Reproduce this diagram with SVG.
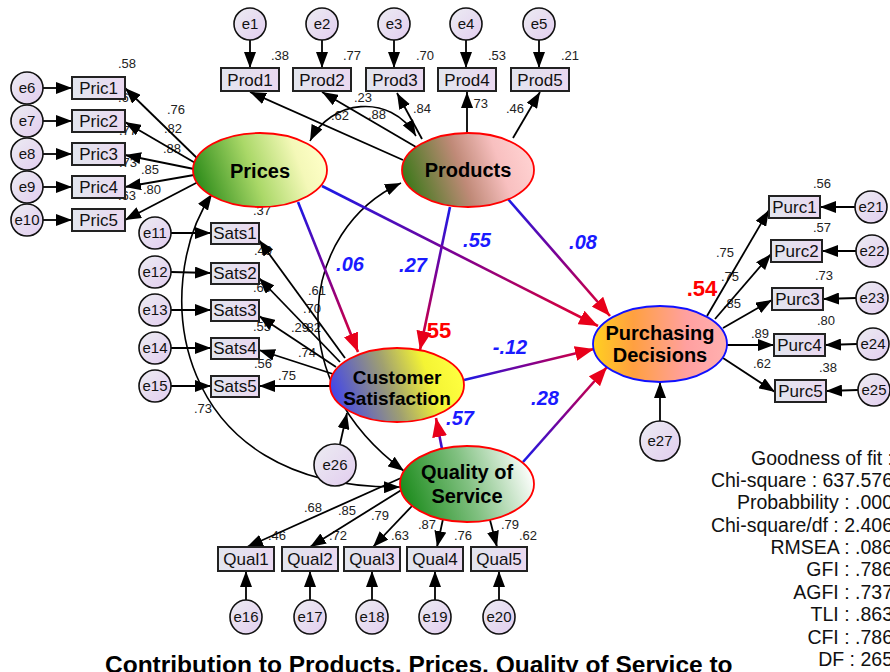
<svg xmlns="http://www.w3.org/2000/svg" width="890" height="672" viewBox="0 0 890 672">
<style>
text{font-family:"Liberation Sans",Arial,sans-serif}
.lab{font-size:13px;fill:#222;text-anchor:middle}
.coef{font-size:20px;font-weight:bold;font-style:italic;fill:#1a1aff;text-anchor:middle}
.r2{font-size:22px;font-weight:bold;fill:#f00;text-anchor:middle}
.nt{font-size:20px;font-weight:bold;fill:#000;text-anchor:middle}
.bt{font-size:17px;fill:#111;text-anchor:middle}
.et{font-size:15px;fill:#111;text-anchor:middle}
.fit{font-size:19.5px;fill:#111;text-anchor:end}
.title{font-size:24.5px;font-weight:bold;fill:#000}
.ell{stroke:#f00;stroke-width:1.8}
.err{fill:url(#gErr);stroke:#111;stroke-width:1.6}
.box{fill:url(#gBox);stroke:#222;stroke-width:2}
.k{stroke:#000;stroke-width:1.8;fill:none;marker-end:url(#ah)}
.cov{stroke:#000;stroke-width:1.6;fill:none;marker-start:url(#ah);marker-end:url(#ah)}
.sp{stroke-width:2.6;fill:none;marker-end:url(#ahr)}
</style>
<defs>
<marker id="ah" markerUnits="userSpaceOnUse" markerWidth="16" markerHeight="12" refX="16" refY="6" orient="auto-start-reverse"><path d="M0,0 L16,6 L0,12 z" fill="#000"/></marker>
<marker id="ahr" markerUnits="userSpaceOnUse" markerWidth="19" markerHeight="15" refX="19" refY="7.5" orient="auto"><path d="M0,0 L19,7.5 L0,15 z" fill="#e8001a"/></marker>
<linearGradient id="gErr" x1="0" y1="0" x2="1" y2="1"><stop offset="0" stop-color="#ececf2"/><stop offset="1" stop-color="#e2cdef"/></linearGradient>
<linearGradient id="gBox" x1="0" y1="0" x2="1" y2="0"><stop offset="0" stop-color="#e2e6ee"/><stop offset="1" stop-color="#ead8f0"/></linearGradient>
<linearGradient id="gPrices" x1="0" y1="0.6" x2="1" y2="0.4"><stop offset="0" stop-color="#2a8a18"/><stop offset="0.45" stop-color="#aad868"/><stop offset="0.8" stop-color="#f4f8b8"/><stop offset="1" stop-color="#ffffc8"/></linearGradient>
<linearGradient id="gProducts" x1="0" y1="0.6" x2="1" y2="0.4"><stop offset="0" stop-color="#3a7818"/><stop offset="0.45" stop-color="#c08a78"/><stop offset="0.75" stop-color="#f8c0c0"/><stop offset="1" stop-color="#ffd2d2"/></linearGradient>
<linearGradient id="gCS" x1="0" y1="0.6" x2="1" y2="0.4"><stop offset="0" stop-color="#4044ec"/><stop offset="0.45" stop-color="#a0a070"/><stop offset="0.75" stop-color="#f4f434"/><stop offset="1" stop-color="#ffff40"/></linearGradient>
<linearGradient id="gQS" x1="0" y1="0.6" x2="1" y2="0.4"><stop offset="0" stop-color="#1a8a1a"/><stop offset="0.5" stop-color="#80c080"/><stop offset="1" stop-color="#ffffff"/></linearGradient>
<linearGradient id="gPD" x1="0" y1="0.5" x2="1" y2="0.5"><stop offset="0" stop-color="#ffd020"/><stop offset="0.3" stop-color="#ffa040"/><stop offset="0.7" stop-color="#ffa0a0"/><stop offset="1" stop-color="#ffb0b0"/></linearGradient>
<linearGradient id="s1" gradientUnits="userSpaceOnUse" x1="298" y1="202" x2="358" y2="352"><stop offset="0" stop-color="#1a1ae8"/><stop offset="0.5" stop-color="#800090"/><stop offset="1" stop-color="#e8002a"/></linearGradient>
<linearGradient id="s2" gradientUnits="userSpaceOnUse" x1="450" y1="207" x2="420" y2="350"><stop offset="0" stop-color="#1a1ae8"/><stop offset="0.5" stop-color="#800090"/><stop offset="1" stop-color="#e8002a"/></linearGradient>
<linearGradient id="s3" gradientUnits="userSpaceOnUse" x1="322" y1="186" x2="598" y2="326"><stop offset="0" stop-color="#1a1ae8"/><stop offset="0.5" stop-color="#800090"/><stop offset="1" stop-color="#e8002a"/></linearGradient>
<linearGradient id="s4" gradientUnits="userSpaceOnUse" x1="508" y1="199" x2="610" y2="316"><stop offset="0" stop-color="#1a1ae8"/><stop offset="0.5" stop-color="#800090"/><stop offset="1" stop-color="#e8002a"/></linearGradient>
<linearGradient id="s5" gradientUnits="userSpaceOnUse" x1="464" y1="380" x2="594" y2="349"><stop offset="0" stop-color="#1a1ae8"/><stop offset="0.5" stop-color="#800090"/><stop offset="1" stop-color="#e8002a"/></linearGradient>
<linearGradient id="s6" gradientUnits="userSpaceOnUse" x1="523" y1="462" x2="607" y2="367"><stop offset="0" stop-color="#1a1ae8"/><stop offset="0.5" stop-color="#800090"/><stop offset="1" stop-color="#e8002a"/></linearGradient>
<linearGradient id="s7" gradientUnits="userSpaceOnUse" x1="442" y1="449" x2="436" y2="418"><stop offset="0" stop-color="#1a1ae8"/><stop offset="0.5" stop-color="#800090"/><stop offset="1" stop-color="#e8002a"/></linearGradient>
</defs>
<rect width="890" height="672" fill="#fff"/>

<g id="labels">
<text class="lab" x="280" y="60">.38</text><text class="lab" x="352" y="60">.77</text><text class="lab" x="425" y="60">.70</text><text class="lab" x="497" y="60">.53</text><text class="lab" x="570" y="60">.21</text>
<text class="lab" x="340" y="120">.62</text><text class="lab" x="363" y="102">.23</text><text class="lab" x="377" y="119">.88</text><text class="lab" x="422" y="113">.84</text><text class="lab" x="479" y="108">.73</text><text class="lab" x="515" y="113">.46</text>
<text class="lab" x="127" y="68">.58</text><text class="lab" x="127" y="102">.67</text><text class="lab" x="128" y="135">.77</text><text class="lab" x="128" y="167">.73</text><text class="lab" x="127" y="200">.63</text>
<text class="lab" x="176" y="114">.76</text><text class="lab" x="173" y="133">.82</text><text class="lab" x="172" y="153">.88</text><text class="lab" x="150" y="174">.85</text><text class="lab" x="152" y="194">.80</text>
<text class="lab" x="262" y="215">.37</text><text class="lab" x="263" y="255">.49</text><text class="lab" x="262" y="292">.68</text><text class="lab" x="262" y="331">.55</text><text class="lab" x="263" y="368">.56</text>
<text class="lab" x="317" y="295">.61</text><text class="lab" x="312" y="313">.70</text><text class="lab" x="300" y="332">.29</text><text class="lab" x="312" y="332">.82</text><text class="lab" x="307" y="357">.74</text><text class="lab" x="287" y="380">.75</text><text class="lab" x="203" y="413">.73</text>
<text class="lab" x="313" y="512">.68</text><text class="lab" x="347" y="515">.85</text><text class="lab" x="380" y="520">.79</text><text class="lab" x="427" y="529">.87</text><text class="lab" x="510" y="529">.79</text>
<text class="lab" x="277" y="540">.46</text><text class="lab" x="338" y="540">.72</text><text class="lab" x="400" y="540">.63</text><text class="lab" x="463" y="540">.76</text><text class="lab" x="528" y="540">.62</text>
<text class="lab" x="822" y="188">.56</text><text class="lab" x="822" y="232">.57</text><text class="lab" x="824" y="280">.73</text><text class="lab" x="826" y="325">.80</text><text class="lab" x="828" y="372">.38</text>
<text class="lab" x="725" y="257">.75</text><text class="lab" x="730" y="281">.75</text><text class="lab" x="732" y="308">.85</text><text class="lab" x="760" y="338">.89</text><text class="lab" x="762" y="368">.62</text>
<text class="coef" x="350" y="271">.06</text><text class="coef" x="413" y="272">.27</text><text class="coef" x="477" y="247">.55</text><text class="coef" x="583" y="249">.08</text><text class="coef" x="510" y="354">-.12</text><text class="coef" x="545" y="405">.28</text><text class="coef" x="460" y="425">.57</text>
<text class="r2" x="436" y="338">.55</text><text class="r2" x="702" y="296">.54</text>
</g>

<g id="connectors">
<path class="k" d="M403,160 L250,92"/><path class="k" d="M416,147 L322,92"/><path class="k" d="M422,139 L397,93"/><path class="k" d="M467,133 L467,92"/><path class="k" d="M513,138 L540,92"/>
<path class="k" d="M250,40 L250,68"/><path class="k" d="M322,40 L322,68"/><path class="k" d="M394,40 L394,68"/><path class="k" d="M466,40 L466,68"/><path class="k" d="M539,40 L539,68"/>
<path class="k" d="M200,161 L125,88"/><path class="k" d="M197,164 L125,122"/><path class="k" d="M194,169 L125,155"/><path class="k" d="M194,175 L125,187"/><path class="k" d="M198,182 L125,220"/>
<path class="k" d="M43,88 L72,88"/><path class="k" d="M43,121 L72,121"/><path class="k" d="M43,154 L72,154"/><path class="k" d="M43,187 L72,187"/><path class="k" d="M43,220 L72,220"/>
<path class="k" d="M345,358 L259,240"/><path class="k" d="M340,362 L259,278"/><path class="k" d="M336,367 L259,316"/><path class="k" d="M333,374 L259,350"/><path class="k" d="M330,386 L259,386"/>
<path class="k" d="M171,233 L211,233"/><path class="k" d="M171,272 L211,273"/><path class="k" d="M171,310 L211,310"/><path class="k" d="M171,348 L211,348"/><path class="k" d="M171,386 L211,386"/>
<path class="k" d="M401,478 L247,547"/><path class="k" d="M403,489 L310,547"/><path class="k" d="M412,506 L373,547"/><path class="k" d="M443,519 L437,547"/><path class="k" d="M490,520 L497,547"/>
<path class="k" d="M246,600 L246,571"/><path class="k" d="M310,600 L310,571"/><path class="k" d="M372,600 L372,571"/><path class="k" d="M435,600 L435,571"/><path class="k" d="M499,600 L499,571"/>
<path class="k" d="M707,316 L769,210"/><path class="k" d="M715,319 L771,254"/><path class="k" d="M723,328 L772,300"/><path class="k" d="M727,345 L774,345"/><path class="k" d="M723,358 L775,392"/>
<path class="k" d="M855,207 L820,207"/><path class="k" d="M856,251 L822,251"/><path class="k" d="M856,298 L823,299"/><path class="k" d="M857,344 L825,345"/><path class="k" d="M858,390 L826,391"/>
<path class="k" d="M660,421 L660,382"/>
<path class="k" d="M340,444 L347,413"/>
<path class="cov" d="M310,141 C330,100 390,92 416,136"/>
<path class="cov" d="M212,194 C150,285 170,490 400,487"/>
<path class="cov" d="M401,183 C300,230 280,380 404,471"/>
<path class="sp" stroke="url(#s1)" d="M298,202 L358,352"/>
<path class="sp" stroke="url(#s2)" d="M450,207 L420,350"/>
<path class="sp" stroke="url(#s3)" d="M322,186 L598,326"/>
<path class="sp" stroke="url(#s4)" d="M508,199 L610,316"/>
<path class="sp" stroke="url(#s5)" d="M464,380 L594,349"/>
<path class="sp" stroke="url(#s6)" d="M523,462 L607,367"/>
<path class="sp" stroke="url(#s7)" d="M442,449 L436,418"/>
</g>

<g id="Prices"><ellipse class="ell" cx="260" cy="170" rx="67" ry="37" fill="url(#gPrices)"/><text class="nt" x="260" y="178">Prices</text></g>
<g id="Products"><ellipse class="ell" cx="468" cy="170" rx="66" ry="37" fill="url(#gProducts)"/><text class="nt" x="468" y="177">Products</text></g>
<g id="CustomerSatisfaction"><ellipse class="ell" cx="397" cy="385" rx="67" ry="37" fill="url(#gCS)"/><text class="nt" x="397" y="384" style="font-size:19px">Customer</text><text class="nt" x="397" y="405" style="font-size:19px">Satisfaction</text></g>
<g id="QualityOfService"><ellipse class="ell" cx="467" cy="484" rx="67" ry="38" fill="url(#gQS)"/><text class="nt" x="467" y="479">Quality of</text><text class="nt" x="467" y="503">Service</text></g>
<g id="PurchasingDecisions"><ellipse cx="660" cy="344" rx="67" ry="38" fill="url(#gPD)" stroke="#1010ff" stroke-width="1.8"/><text class="nt" x="660" y="340">Purchasing</text><text class="nt" x="660" y="362">Decisions</text></g>

<g id="Prod1"><rect class="box" x="221" y="68" width="58" height="23"/><text class="bt" x="250" y="86">Prod1</text></g>
<g id="Prod2"><rect class="box" x="293" y="68" width="58" height="23"/><text class="bt" x="322" y="86">Prod2</text></g>
<g id="Prod3"><rect class="box" x="366" y="68" width="58" height="23"/><text class="bt" x="395" y="86">Prod3</text></g>
<g id="Prod4"><rect class="box" x="438" y="68" width="58" height="23"/><text class="bt" x="467" y="86">Prod4</text></g>
<g id="Prod5"><rect class="box" x="511" y="68" width="58" height="23"/><text class="bt" x="540" y="86">Prod5</text></g>
<g id="e1"><circle class="err" cx="250" cy="24" r="16"/><text class="et" x="250" y="29">e1</text></g>
<g id="e2"><circle class="err" cx="322" cy="24" r="16"/><text class="et" x="322" y="29">e2</text></g>
<g id="e3"><circle class="err" cx="394" cy="24" r="16"/><text class="et" x="394" y="29">e3</text></g>
<g id="e4"><circle class="err" cx="466" cy="24" r="16"/><text class="et" x="466" y="29">e4</text></g>
<g id="e5"><circle class="err" cx="539" cy="24" r="16"/><text class="et" x="539" y="29">e5</text></g>

<g id="Pric1"><rect class="box" x="72" y="77" width="53" height="22"/><text class="bt" x="98.5" y="94">Pric1</text></g>
<g id="Pric2"><rect class="box" x="72" y="110" width="53" height="22"/><text class="bt" x="98.5" y="127">Pric2</text></g>
<g id="Pric3"><rect class="box" x="72" y="143" width="53" height="22"/><text class="bt" x="98.5" y="160">Pric3</text></g>
<g id="Pric4"><rect class="box" x="72" y="176" width="53" height="22"/><text class="bt" x="98.5" y="193">Pric4</text></g>
<g id="Pric5"><rect class="box" x="72" y="209" width="53" height="22"/><text class="bt" x="98.5" y="226">Pric5</text></g>
<g id="e6"><circle class="err" cx="27" cy="88" r="16"/><text class="et" x="27" y="93">e6</text></g>
<g id="e7"><circle class="err" cx="27" cy="121" r="16"/><text class="et" x="27" y="126">e7</text></g>
<g id="e8"><circle class="err" cx="27" cy="154" r="16"/><text class="et" x="27" y="159">e8</text></g>
<g id="e9"><circle class="err" cx="27" cy="187" r="16"/><text class="et" x="27" y="192">e9</text></g>
<g id="e10"><circle class="err" cx="27" cy="220" r="16"/><text class="et" x="27" y="225">e10</text></g>

<g id="Sats1"><rect class="box" x="211" y="223" width="48" height="21"/><text class="bt" x="235" y="239">Sats1</text></g>
<g id="Sats2"><rect class="box" x="211" y="263" width="48" height="21"/><text class="bt" x="235" y="279">Sats2</text></g>
<g id="Sats3"><rect class="box" x="211" y="300" width="48" height="21"/><text class="bt" x="235" y="316">Sats3</text></g>
<g id="Sats4"><rect class="box" x="211" y="338" width="48" height="21"/><text class="bt" x="235" y="354">Sats4</text></g>
<g id="Sats5"><rect class="box" x="211" y="376" width="48" height="21"/><text class="bt" x="235" y="392">Sats5</text></g>
<g id="e11"><circle class="err" cx="155" cy="233" r="16"/><text class="et" x="155" y="238">e11</text></g>
<g id="e12"><circle class="err" cx="155" cy="272" r="16"/><text class="et" x="155" y="277">e12</text></g>
<g id="e13"><circle class="err" cx="155" cy="310" r="16"/><text class="et" x="155" y="315">e13</text></g>
<g id="e14"><circle class="err" cx="155" cy="348" r="16"/><text class="et" x="155" y="353">e14</text></g>
<g id="e15"><circle class="err" cx="155" cy="386" r="16"/><text class="et" x="155" y="391">e15</text></g>

<g id="Qual1"><rect class="box" x="218" y="547" width="56" height="24"/><text class="bt" x="246" y="565">Qual1</text></g>
<g id="Qual2"><rect class="box" x="282" y="547" width="56" height="24"/><text class="bt" x="310" y="565">Qual2</text></g>
<g id="Qual3"><rect class="box" x="344" y="547" width="56" height="24"/><text class="bt" x="372" y="565">Qual3</text></g>
<g id="Qual4"><rect class="box" x="407" y="547" width="56" height="24"/><text class="bt" x="435" y="565">Qual4</text></g>
<g id="Qual5"><rect class="box" x="471" y="547" width="56" height="24"/><text class="bt" x="499" y="565">Qual5</text></g>
<g id="e16"><ellipse class="err" cx="246" cy="617" rx="16" ry="17"/><text class="et" x="246" y="622">e16</text></g>
<g id="e17"><ellipse class="err" cx="310" cy="617" rx="16" ry="17"/><text class="et" x="310" y="622">e17</text></g>
<g id="e18"><ellipse class="err" cx="372" cy="617" rx="16" ry="17"/><text class="et" x="372" y="622">e18</text></g>
<g id="e19"><ellipse class="err" cx="435" cy="617" rx="16" ry="17"/><text class="et" x="435" y="622">e19</text></g>
<g id="e20"><ellipse class="err" cx="499" cy="617" rx="16" ry="17"/><text class="et" x="499" y="622">e20</text></g>

<g id="Purc1"><rect class="box" x="769" y="196" width="51" height="22"/><text class="bt" x="794.5" y="213">Purc1</text></g>
<g id="Purc2"><rect class="box" x="771" y="240" width="51" height="22"/><text class="bt" x="796.5" y="257">Purc2</text></g>
<g id="Purc3"><rect class="box" x="772" y="288" width="51" height="22"/><text class="bt" x="797.5" y="305">Purc3</text></g>
<g id="Purc4"><rect class="box" x="774" y="334" width="51" height="22"/><text class="bt" x="799.5" y="351">Purc4</text></g>
<g id="Purc5"><rect class="box" x="775" y="380" width="51" height="22"/><text class="bt" x="800.5" y="397">Purc5</text></g>
<g id="e21"><circle class="err" cx="871" cy="207" r="16"/><text class="et" x="871" y="212">e21</text></g>
<g id="e22"><circle class="err" cx="872" cy="251" r="16"/><text class="et" x="872" y="256">e22</text></g>
<g id="e23"><circle class="err" cx="872" cy="298" r="16"/><text class="et" x="872" y="303">e23</text></g>
<g id="e24"><circle class="err" cx="873" cy="344" r="16"/><text class="et" x="873" y="349">e24</text></g>
<g id="e25"><circle class="err" cx="874" cy="390" r="16"/><text class="et" x="874" y="395">e25</text></g>

<g id="e26"><circle class="err" cx="335" cy="465" r="21"/><text class="et" x="335" y="470">e26</text></g>
<g id="e27"><circle class="err" cx="660" cy="441" r="20"/><text class="et" x="660" y="446">e27</text></g>

<g id="fit">
<text class="fit" x="893" y="465">Goodness of fit :</text>
<text class="fit" x="893" y="487">Chi-square : 637.576</text>
<text class="fit" x="893" y="509">Probabbility : .000</text>
<text class="fit" x="893" y="532">Chi-square/df : 2.406</text>
<text class="fit" x="893" y="554">RMSEA : .086</text>
<text class="fit" x="893" y="576">GFI : .786</text>
<text class="fit" x="893" y="599">AGFI : .737</text>
<text class="fit" x="893" y="621">TLI : .863</text>
<text class="fit" x="893" y="644">CFI : .786</text>
<text class="fit" x="893" y="666">DF : 265</text>
</g>
<text class="title" x="105" y="673">Contribution to Products, Prices, Quality of Service to</text>
</svg>
